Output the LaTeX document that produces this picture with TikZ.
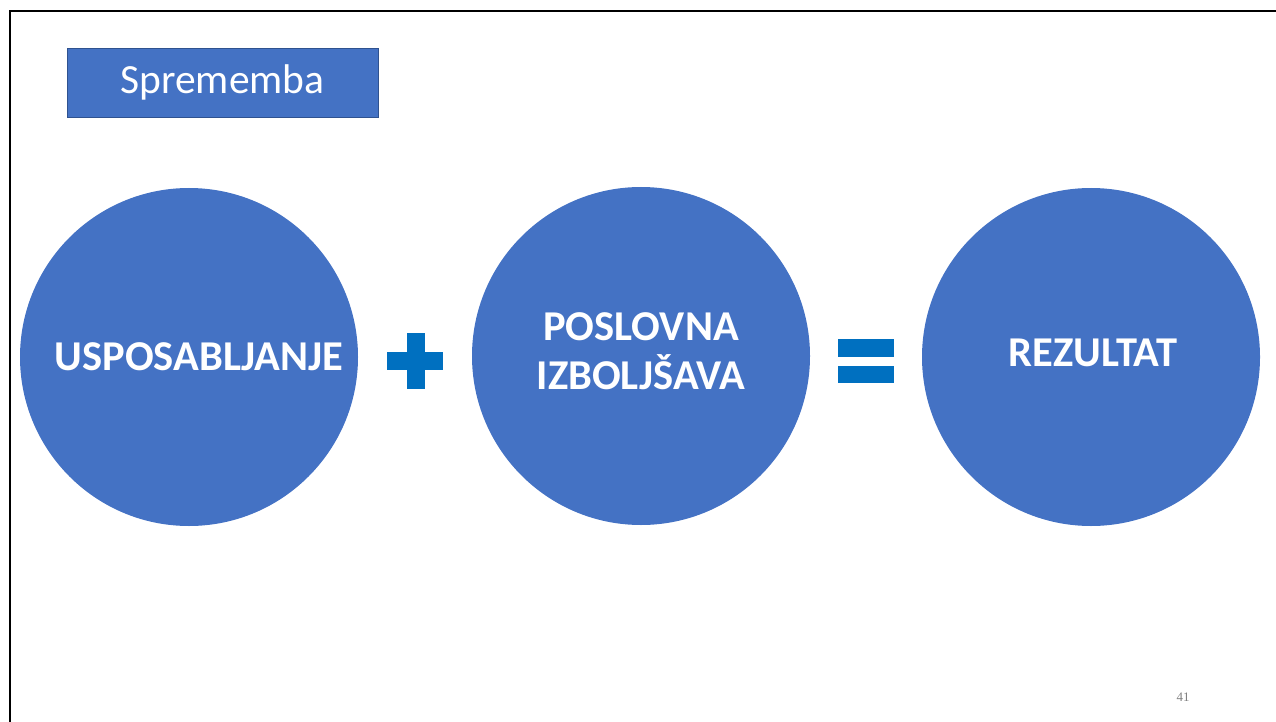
\documentclass[tikz,border=0pt]{standalone}
\usepackage{fontspec}
\setmainfont{Carlito}
\newfontfamily\pagenofont{Liberation Serif}
\usepackage{xcolor}
\usepackage{tikz}
\usetikzlibrary{positioning}
\definecolor{slideblue}{HTML}{4472C4}
\definecolor{slideedge}{HTML}{2F528F}
\definecolor{signblue}{HTML}{0070C0}
\tikzset{
  bubble/.style={circle, fill=slideblue, minimum size=338pt, inner sep=0pt,
    text=white, align=center, font=\fontsize{42.5}{47}\selectfont\bfseries},
  titlebox/.style={rectangle, fill=slideblue, draw=slideedge, line width=0.8pt,
    minimum width=311pt, minimum height=69pt, inner sep=0pt,
    text=white, font=\fontsize{41.5}{44}\selectfont},
  sign/.style={fill=signblue}
}

\begin{document}
\begin{tikzpicture}[x=1pt, y=-1pt]
    \useasboundingbox (0,0) rectangle (1276,722);

    % Slide frame
    \draw[line width=2.6pt, black] (10,723) -- (10,11) -- (1277,11);

    % Title
    \node[titlebox] (title) at (222.5,82.5) {Sprememba};

    % The three circles
    \node[bubble] (training) at (189,357) {\hspace*{20pt}USPOSABLJANJE};
    \node[bubble] (improve) at (641,356) {\raisebox{9pt}{\begin{tabular}{@{}c@{}}POSLOVNA\\IZBOLJŠAVA\end{tabular}}};
    \node[bubble] (result) at (1091,357) {\hspace*{4pt}\raisebox{8pt}{REZULTAT}};

    % Plus sign
    \fill[sign] (406.5,333) rectangle (424.5,389);
    \fill[sign] (387,352) rectangle (443,370);

    % Equals sign
    \fill[sign] (838,339) rectangle (894,357);
    \fill[sign] (838,366) rectangle (894,383);

    % Page number
    \node[text=gray, font=\pagenofont\fontsize{13}{15}\selectfont] (pageno) at (1183,697) {41};
\end{tikzpicture}
\end{document}
